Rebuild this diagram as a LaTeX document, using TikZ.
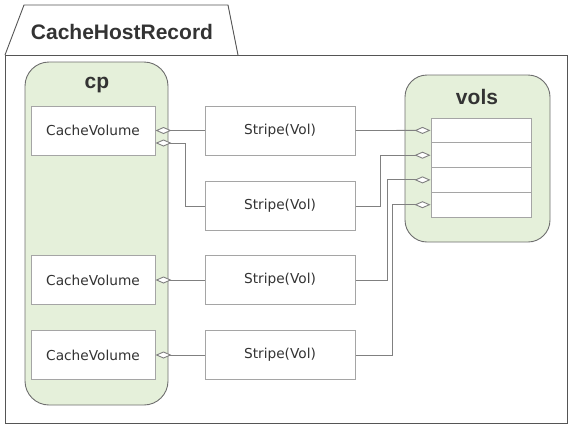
\documentclass[tikz,border=0pt]{standalone}
\usepackage{fontspec}
\setmainfont{Liberation Sans}
\newfontfamily\boxfont{DejaVu Sans}
\usetikzlibrary{arrows.meta}
\definecolor{grnfill}{RGB}{229,240,218}
\definecolor{cborder}{RGB}{110,110,110}
\definecolor{bborder}{RGB}{165,165,165}
\definecolor{lcol}{RGB}{128,128,128}
\definecolor{fcol}{RGB}{85,85,85}
\definecolor{tcol}{RGB}{51,51,51}
\tikzset{
  container/.style={draw=cborder, fill=grnfill, line width=0.9pt, rounded corners=24pt},
  classbox/.style={draw=bborder, fill=white, line width=1pt, minimum width=124pt, minimum height=49pt, inner sep=0pt, font=\boxfont\fontsize{13.7}{16}\selectfont, text=black!80},
  stripebox/.style={classbox, minimum width=150pt},
  rowbox/.style={draw=bborder, fill=white, line width=1pt, minimum width=100pt, minimum height=24.75pt, inner sep=0pt},
  conn/.style={draw=lcol, line width=0.9pt},
  aggtip/.tip={Diamond[open, fill=white, length=16pt, width=7pt]},
  bigtitle/.style={font=\bfseries\fontsize{21}{24}\selectfont, text=tcol, inner sep=0pt},
}
\begin{document}
\begin{tikzpicture}[x=1pt, y=-1pt]
\useasboundingbox (0,0) rectangle (573,429);
% package frame
\draw[fcol, line width=0.9pt] (5,55) -- (24,5) -- (228,5) -- (238,55);
\draw[fcol, line width=0.9pt] (5,55) rectangle (567,423);
\node[bigtitle] (title) at (122,32) {CacheHostRecord};
% containers
\draw[container] (25,62) rectangle (168,405);
\node[bigtitle] (cp) at (97,85) {cp};
\draw[container, rounded corners=22pt] (405,75) rectangle (550,242);
\node[bigtitle] (vols) at (477,97) {vols};
% class boxes
\node[classbox] (cv1) at (93,130.5) {CacheVolume};
\node[classbox] (cv2) at (93,280) {CacheVolume};
\node[classbox] (cv3) at (93,355) {CacheVolume};
\node[stripebox] (s1) at (280,130.5) {Stripe(Vol)};
\node[stripebox] (s2) at (280,206) {Stripe(Vol)};
\node[stripebox] (s3) at (280,280) {Stripe(Vol)};
\node[stripebox] (s4) at (280,355) {Stripe(Vol)};
% table rows
\node[rowbox] (r1) at (481,130.4) {};
\node[rowbox] (r2) at (481,155.2) {};
\node[rowbox] (r3) at (481,179.9) {};
\node[rowbox] (r4) at (481,204.7) {};
% left connectors
\draw[conn, {aggtip}-] (cv1.east) -- (s1.west);
\draw[conn, {aggtip}-] ([yshift=-12.5pt]cv1.east) -- ++(30,0) |- (s2.west);
\draw[conn, {aggtip}-] (cv2.east) -- (s3.west);
\draw[conn, {aggtip}-] (cv3.east) -- (s4.west);
% right connectors
\draw[conn, -{aggtip}] (s1.east) -- (r1.west);
\draw[conn, -{aggtip}] (s2.east) -- ++(25,0) |- (r2.west);
\draw[conn, -{aggtip}] (s3.east) -- ++(32,0) |- (r3.west);
\draw[conn, -{aggtip}] (s4.east) -- ++(37,0) |- (r4.west);
\end{tikzpicture}
\end{document}
